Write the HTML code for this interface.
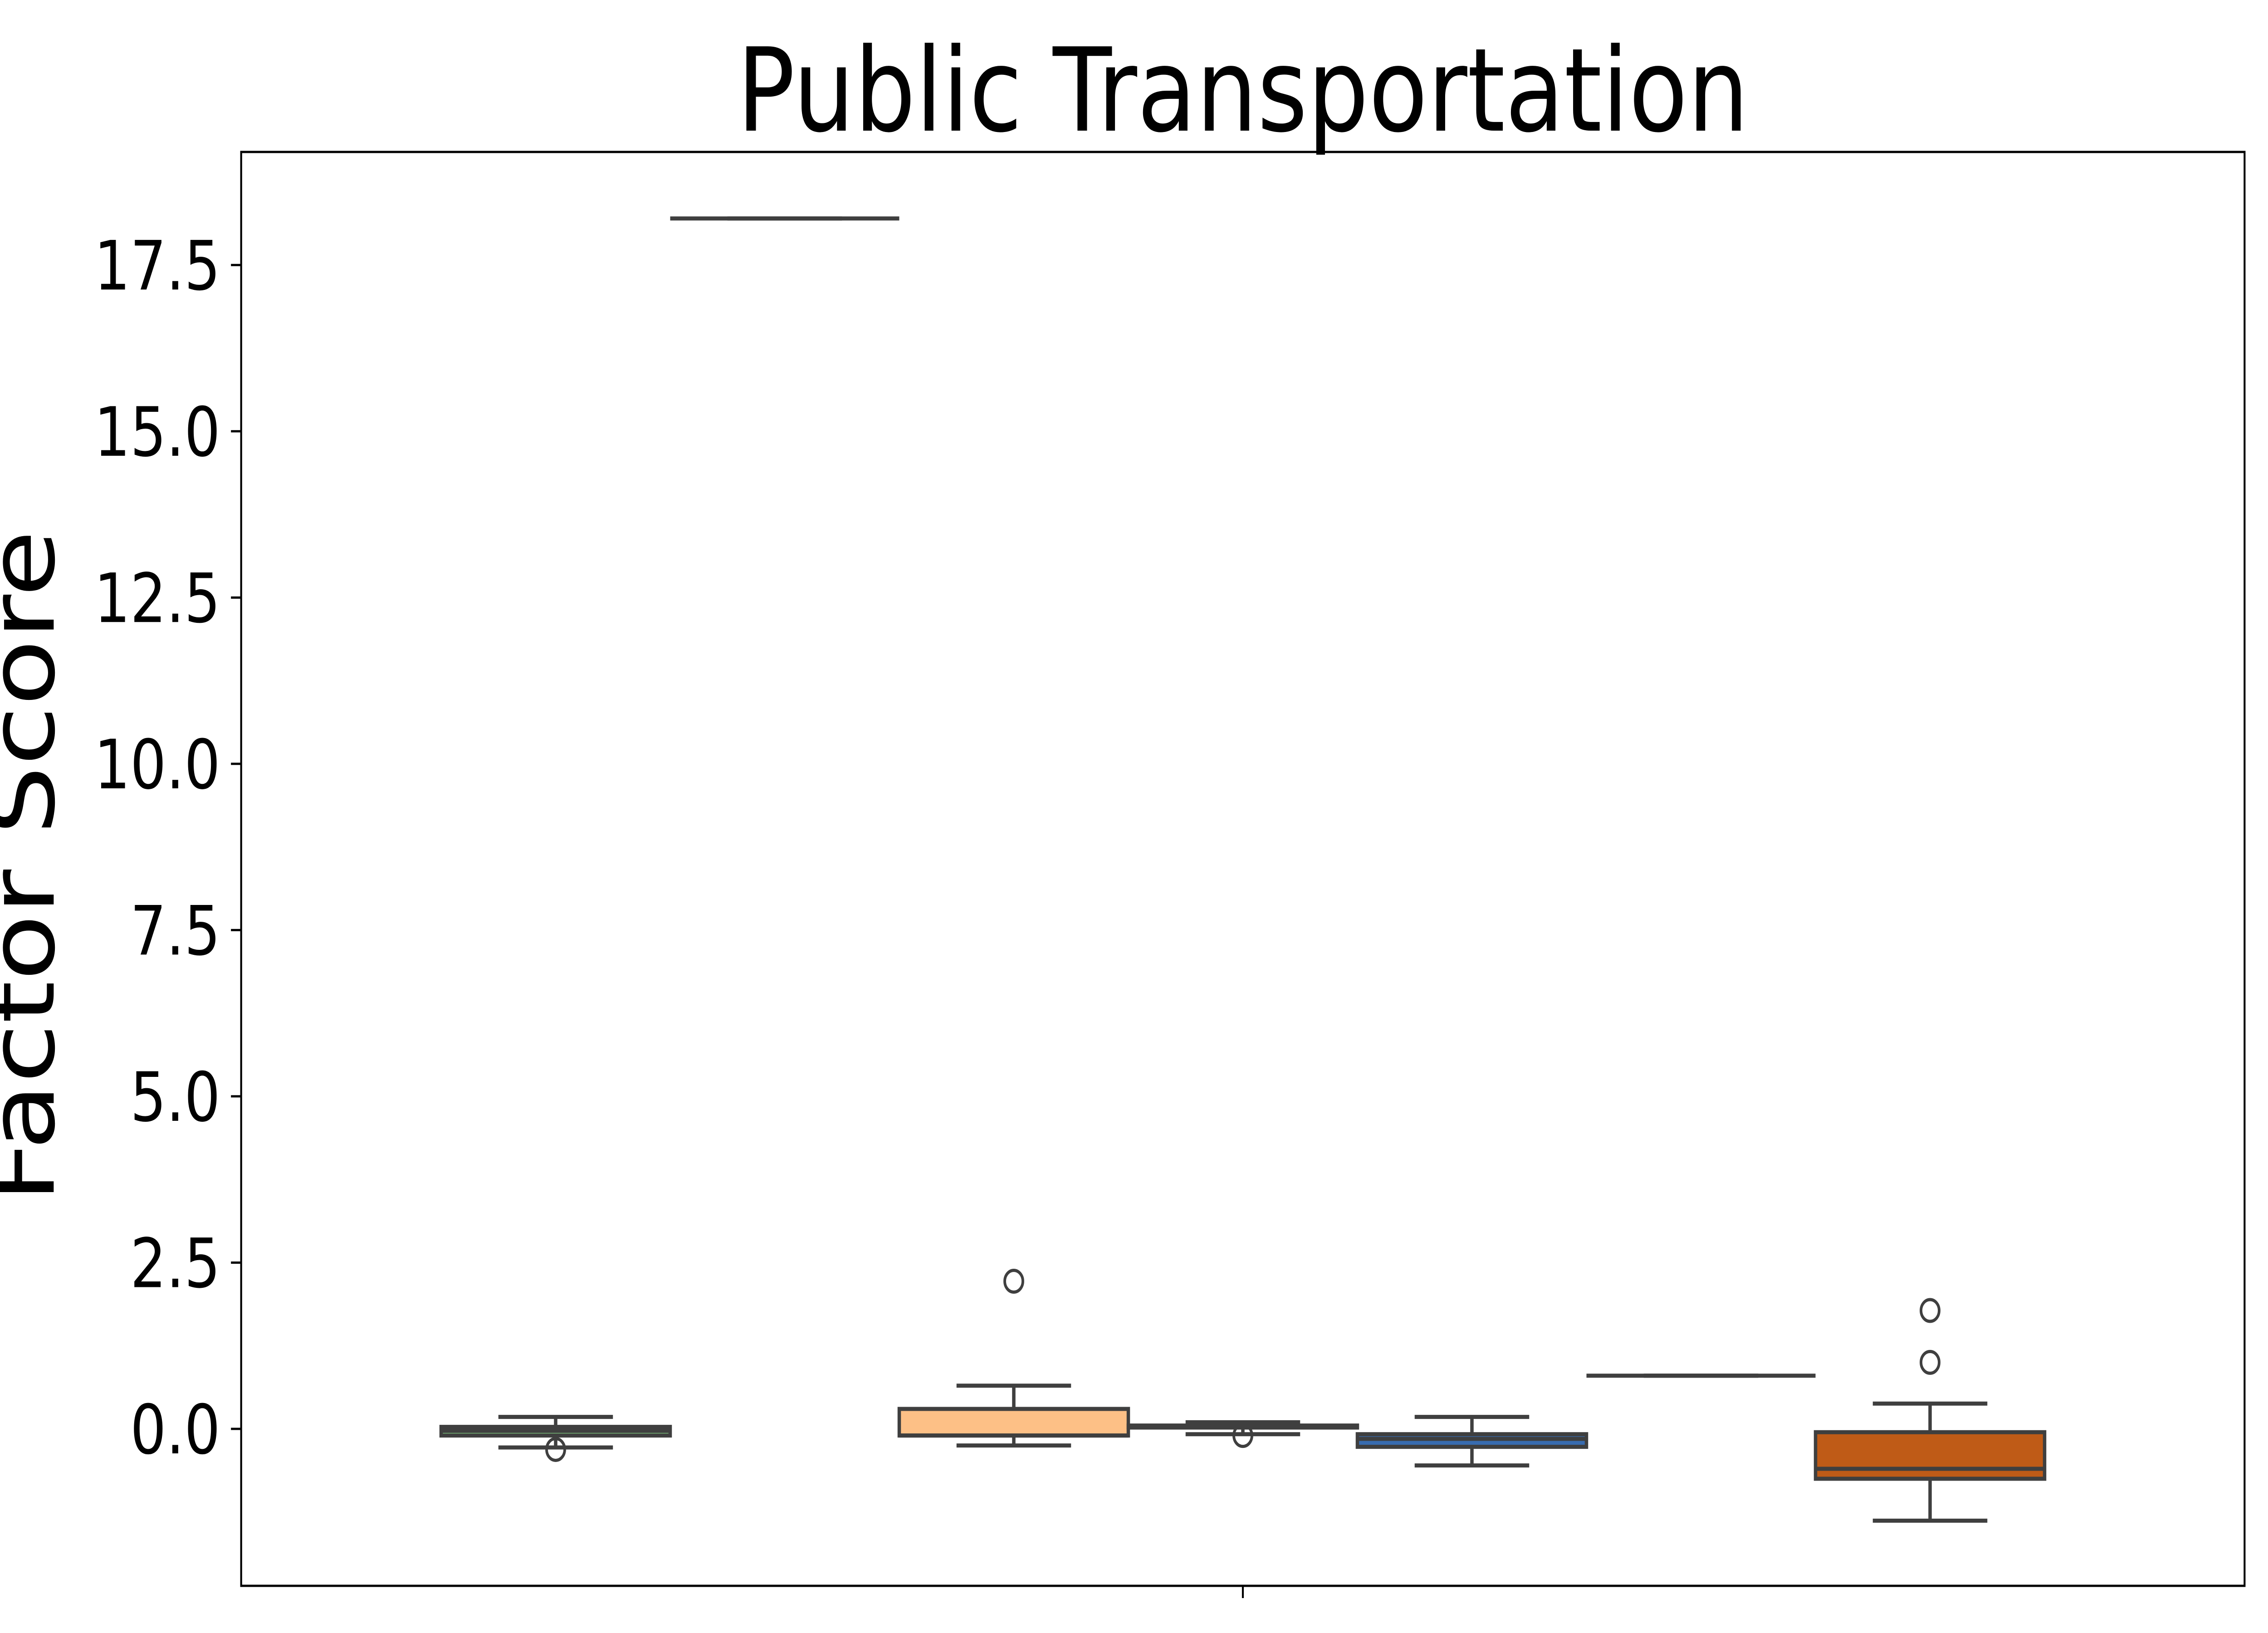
<!DOCTYPE html>
<html><head><meta charset="utf-8"><style>
html,body{margin:0;padding:0;background:#fff;width:100vw;height:100vh;overflow:hidden;}
svg{display:block;width:100vw;height:100vh;}
text{font-family:"DejaVu Sans","Liberation Sans",sans-serif;fill:#000;}
</style></head><body>
<svg id="chart" viewBox="0 0 6000 3600" preserveAspectRatio="none" xmlns="http://www.w3.org/2000/svg">
<rect x="0" y="0" width="6000" height="3600" fill="#fff"/>
<text x="3288" y="288" font-size="255" text-anchor="middle">Public Transportation</text>
<text transform="translate(142,1910) rotate(-90)" font-size="240" text-anchor="middle">Factor Score</text>
<g id="plot"></g>
<g id="yticks"></g>
<rect x="638" y="335" width="5300" height="3161" fill="none" stroke="#000" stroke-width="5"/>
<line x1="3288" y1="3496" x2="3288" y2="3523" stroke="#000" stroke-width="5"/>
</svg>
<script>
const groups = ["g1","g2","g3","g4","g5","g6","g7"];
const colors = ["#7fc97f","#beaed4","#fdc086","#ffff99","#386cb0","#f0027f","#bf5b17"];
const whiskerLow = [-0.28, 18.2, -0.25, -0.08, -0.55, 0.8, -1.38];
const q1Values = [-0.1, 18.2, -0.1, 0.02, -0.27, 0.8, -0.75];
const medianValues = [-0.03, 18.2, -0.1, 0.03, -0.15, 0.8, -0.6];
const q3Values = [0.03, 18.2, 0.3, 0.05, -0.08, 0.8, -0.05];
const whiskerHigh = [0.18, 18.2, 0.65, 0.1, 0.18, 0.8, 0.38];
const outlierValues = [[-0.31], [], [2.22], [-0.1], [], [], [1.0, 1.78]];
const yTicks = [0, 2.5, 5, 7.5, 10, 12.5, 15, 17.5];
const yTickLabels = ["0.0","2.5","5.0","7.5","10.0","12.5","15.0","17.5"];

const NS = "http://www.w3.org/2000/svg";
const Y_MIN = -2.36, Y_MAX = 19.2, AX_TOP = 335, AX_BOTTOM = 3496, AX_LEFT = 638;
function yScale(v){ return AX_BOTTOM - (v - Y_MIN) / (Y_MAX - Y_MIN) * (AX_BOTTOM - AX_TOP); }
const SLOT = 606, X_CENTER = 3288;
function xScale(i){ return X_CENTER + (i - (groups.length - 1) / 2) * SLOT; }
function mk(tag, attrs, parent){
  const e = document.createElementNS(NS, tag);
  for (const k in attrs) e.setAttribute(k, attrs[k]);
  parent.appendChild(e); return e;
}
const plotG = document.getElementById('plot');
const EDGE = "#3f3f3f", LW = 9;
groups.forEach((g, i) => {
  const cx = xScale(i), bw = SLOT, cw = SLOT / 2;
  const grp = mk('g', {}, plotG);
  
  
  const w1 = mk('line', {x1: cx, x2: cx, y1: yScale(q1Values[i]), y2: yScale(whiskerLow[i]), stroke: EDGE, 'stroke-width': LW}, grp);
  
  
  const w2 = mk('line', {x1: cx, x2: cx, y1: yScale(q3Values[i]), y2: yScale(whiskerHigh[i]), stroke: EDGE, 'stroke-width': LW}, grp);
  
  
  const c1 = mk('line', {x1: cx - cw / 2, x2: cx + cw / 2, y1: yScale(whiskerLow[i]), y2: yScale(whiskerLow[i]), stroke: EDGE, 'stroke-width': LW}, grp);
  
  
  const c2 = mk('line', {x1: cx - cw / 2, x2: cx + cw / 2, y1: yScale(whiskerHigh[i]), y2: yScale(whiskerHigh[i]), stroke: EDGE, 'stroke-width': LW}, grp);
  
  
  const yt = yScale(q3Values[i]), yb = yScale(q1Values[i]);
  const r = mk('rect', {x: cx - bw / 2, y: yt, width: bw, height: Math.max(0, yb - yt), fill: colors[i], stroke: EDGE, 'stroke-width': LW}, grp);
  
  
  const m = mk('line', {x1: cx - bw / 2, x2: cx + bw / 2, y1: yScale(medianValues[i]), y2: yScale(medianValues[i]), stroke: EDGE, 'stroke-width': LW}, grp);
  
  
  outlierValues[i].forEach(v => {
    const o = mk('ellipse', {cx: cx, cy: yScale(v), rx: 24, ry: 24, fill: 'none', stroke: EDGE, 'stroke-width': 7}, grp);
    
    
  });
});
const ytG = document.getElementById('yticks');
yTicks.forEach((v, i) => {
  const t = mk('line', {x1: AX_LEFT - 27, x2: AX_LEFT, y1: yScale(v), y2: yScale(v), stroke: '#000', 'stroke-width': 5}, ytG);
  
  
  const l = mk('text', {x: AX_LEFT - 55, y: yScale(v) + 54, 'font-size': 150, 'text-anchor': 'end'}, ytG);
  
  
  l.textContent = yTickLabels[i];
});
</script>
</body></html>
